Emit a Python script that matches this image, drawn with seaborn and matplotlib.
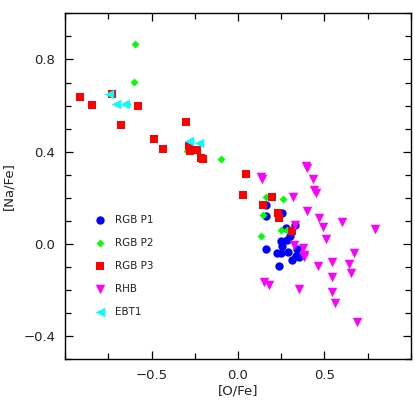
import matplotlib
matplotlib.use("Agg")
import matplotlib.pyplot as plt
import seaborn as sns
import pandas as pd
from matplotlib.ticker import MultipleLocator, FixedLocator, FuncFormatter

# ---- data ----
p1_ofe = [0.164, 0.162, 0.256, 0.277, 0.301, 0.285, 0.250, 0.254, 0.162,
          0.224, 0.249, 0.291, 0.343, 0.334, 0.354, 0.310, 0.239, 0.328]
p1_nafe = [0.171, 0.121, 0.134, 0.068, 0.036, 0.019, 0.014, -0.009, -0.023,
           -0.040, -0.039, -0.036, -0.020, -0.052, -0.057, -0.069, -0.095, 0.082]

p2_ofe = [-0.595, -0.603, -0.643, -0.098, -0.297, 0.164, 0.262, 0.146,
          0.249, 0.285, 0.131]
p2_nafe = [0.869, 0.702, 0.606, 0.370, 0.401, 0.203, 0.193, 0.124,
           0.060, 0.060, 0.035]

p3_ofe = [-0.913, -0.842, -0.727, -0.578, -0.676, -0.301, -0.484, -0.432,
          -0.283, -0.279, -0.237, -0.216, -0.201, 0.045, 0.027, 0.198,
          0.145, 0.231, 0.239, 0.314]
p3_nafe = [0.637, 0.603, 0.652, 0.599, 0.517, 0.527, 0.456, 0.410,
           0.424, 0.403, 0.409, 0.374, 0.370, 0.302, 0.211, 0.203,
           0.170, 0.135, 0.112, 0.057]

rhb_ofe = [0.393, 0.401, 0.133, 0.140, 0.432, 0.441, 0.453, 0.320, 0.401,
           0.470, 0.601, 0.792, 0.491, 0.331, 0.510, 0.377, 0.322, 0.383,
           0.380, 0.669, 0.542, 0.461, 0.642, 0.651, 0.542, 0.152, 0.181,
           0.351, 0.542, 0.561, 0.690]
rhb_nafe = [0.338, 0.329, 0.290, 0.282, 0.282, 0.233, 0.221, 0.204, 0.144,
            0.112, 0.095, 0.063, 0.072, 0.083, 0.023, -0.016, -0.004, -0.047,
            -0.057, -0.038, -0.078, -0.096, -0.086, -0.126, -0.145, -0.165,
            -0.176, -0.197, -0.207, -0.256, -0.337]

ebt_ofe = [-0.746, -0.705, -0.653, -0.285, -0.225]
ebt_nafe = [0.649, 0.607, 0.607, 0.448, 0.439]

groups = ["RGB P1", "RGB P2", "RGB P3", "RHB", "EBT1"]
xs = [p1_ofe, p2_ofe, p3_ofe, rhb_ofe, ebt_ofe]
ys = [p1_nafe, p2_nafe, p3_nafe, rhb_nafe, ebt_nafe]

x_ticks = [-0.5, 0.0, 0.5]
y_ticks = [-0.4, 0.0, 0.4, 0.8]

frames = [pd.DataFrame({"ofe": x, "nafe": y, "group": g})
          for g, x, y in zip(groups, xs, ys)]
df = pd.concat(frames, ignore_index=True)

colors = {"RGB P1": "#0000ff", "RGB P2": "#00ff00", "RGB P3": "#ff0000",
          "RHB": "#ff00ff", "EBT1": "#00ffff"}
markers = {"RGB P1": "o", "RGB P2": "D", "RGB P3": "s", "RHB": "v", "EBT1": "<"}
sizes = {"RGB P1": 36, "RGB P2": 16, "RGB P3": 40, "RHB": 46, "EBT1": 46}

sns.set_style("ticks")
plt.rcParams["font.family"] = ["DejaVu Sans"]

fig = plt.figure(figsize=(4.15, 4.15), dpi=100)
ax = fig.add_axes([0.157, 0.134, 0.833, 0.834])

for g in groups:
    sub = df[df["group"] == g]
    sns.scatterplot(data=sub, x="ofe", y="nafe", ax=ax, color=colors[g],
                    marker=markers[g], s=sizes[g], linewidth=0, label=g)

ax.set_xlim(-1.0, 1.0)
ax.set_ylim(-0.5, 1.0)
ax.xaxis.set_major_locator(FixedLocator(x_ticks))
ax.xaxis.set_minor_locator(MultipleLocator(0.25))
ax.yaxis.set_major_locator(FixedLocator(y_ticks))
ax.yaxis.set_minor_locator(MultipleLocator(0.1))
ax.tick_params(which="both", direction="in", top=True, right=True,
               color="black", width=0.9, labelsize=9.5, labelcolor="#222222")
ax.tick_params(which="major", length=6, pad=7)
ax.tick_params(which="minor", length=4)
fmt = FuncFormatter(lambda v, p: ("\u2212" if v < -1e-9 else "") + f"{abs(v):.1f}")
ax.xaxis.set_major_formatter(fmt)
ax.yaxis.set_major_formatter(fmt)
for sp in ax.spines.values():
    sp.set_color("black")
    sp.set_linewidth(1.0)

ax.set_xlabel("[O/Fe]", fontsize=9.5, color="#222222", labelpad=2)
ax.set_ylabel("[Na/Fe]", fontsize=9.5, color="#222222", labelpad=6)

leg = ax.legend(loc="upper left", bbox_to_anchor=(0.06, 0.43), frameon=False,
                fontsize=7.5, labelspacing=1.25, handletextpad=0.4,
                markerscale=1.0, borderaxespad=0)
for t in leg.get_texts():
    t.set_color("#222222")

fig.savefig("out.png", dpi=100)
